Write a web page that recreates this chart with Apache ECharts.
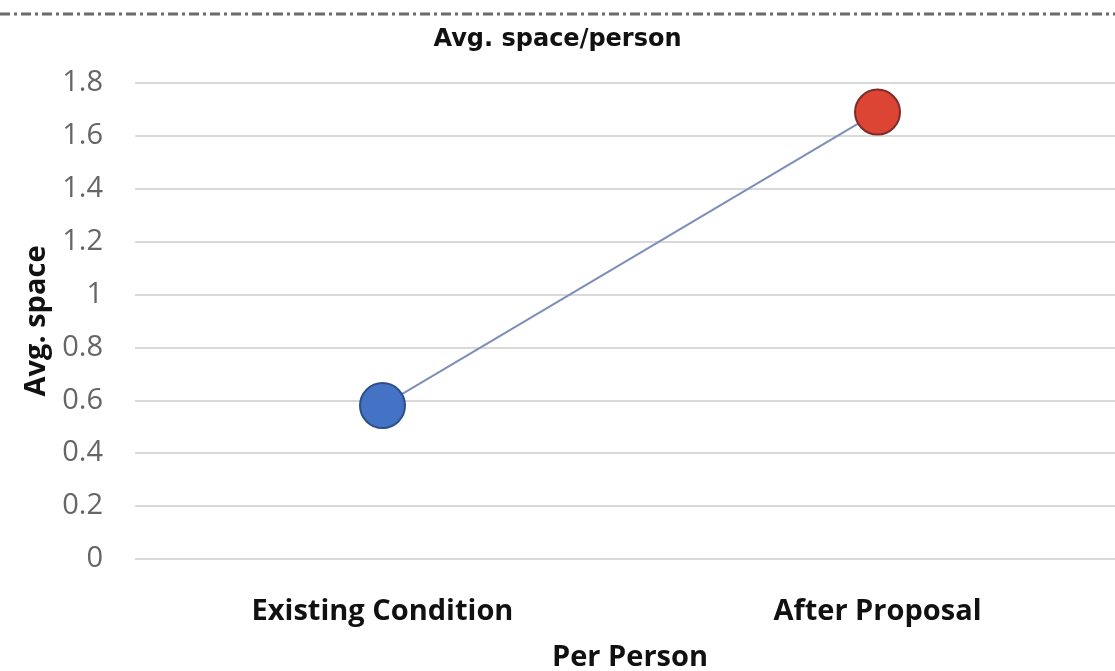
<!DOCTYPE html>
<html>
<head>
<meta charset="utf-8">
<script src="https://cdn.jsdelivr.net/npm/echarts@6/dist/echarts.min.js"></script>
<style>
  html, body { margin: 0; padding: 0; background: #fff; }
  #chart { width: 1115px; height: 671px; }
</style>
</head>
<body>
<div id="chart"></div>
<script>
// Categories and values
const categories = ['Existing Condition', 'After Proposal'];
const avgSpace = [0.58, 1.69];
const pointColors = ['#4472c4', '#dc4434'];
const pointBorders = ['#2c4f8c', '#7d2b2b'];
const yTicks = { min: 0, max: 1.8, interval: 0.2 };

const chart = echarts.init(document.getElementById('chart'));
const font = '"Open Sans", "Liberation Sans", sans-serif';

chart.setOption({
  animation: false,
  backgroundColor: '#ffffff',
  title: {
    text: 'Avg. space/person',
    left: 'center',
    top: 23,
    textStyle: { fontFamily: '"DejaVu Sans", sans-serif', fontSize: 24, fontWeight: 'bold', color: '#111' }
  },
  graphic: [{
    type: 'line',
    shape: { x1: 0, y1: 14, x2: 1115, y2: 14 },
    style: { stroke: '#6b6b6b', lineWidth: 3, lineDash: [10, 4, 3, 4] }
  }],
  grid: { left: 135, right: -10, top: 83, bottom: 112, outerBoundsMode: 'none', containLabel: false },
  xAxis: {
    type: 'category',
    data: categories,
    boundaryGap: true,
    name: 'Per Person',
    nameLocation: 'middle',
    nameGap: 84,
    nameTextStyle: { fontFamily: font, fontSize: 29, fontWeight: 'bold', color: '#111' },
    axisLine: { show: false },
    axisTick: { show: false },
    axisLabel: { margin: 38, fontFamily: font, fontSize: 29, fontWeight: 'bold', color: '#111' }
  },
  yAxis: {
    type: 'value',
    min: yTicks.min,
    max: yTicks.max,
    interval: yTicks.interval,
    name: 'Avg. space',
    nameLocation: 'middle',
    nameGap: 78,
    nameTextStyle: { fontFamily: font, fontSize: 29, fontWeight: 'bold', color: '#111' },
    axisLine: { show: false },
    axisTick: { show: false },
    axisLabel: {
      margin: 32,
      fontFamily: font, fontSize: 29, color: '#666666',
      formatter: v => String(Math.round(v * 10) / 10)
    },
    splitLine: { lineStyle: { color: '#d9d9d9', width: 2 } }
  },
  series: [{
    type: 'line',
    data: avgSpace.map((v, i) => ({
      value: v,
      itemStyle: { color: pointColors[i], borderColor: pointBorders[i], borderWidth: 2 }
    })),
    symbol: 'circle',
    symbolSize: 45,
    lineStyle: { color: '#7d8fb8', width: 2 },
    z: 3
  }]
});
</script>
</body>
</html>
